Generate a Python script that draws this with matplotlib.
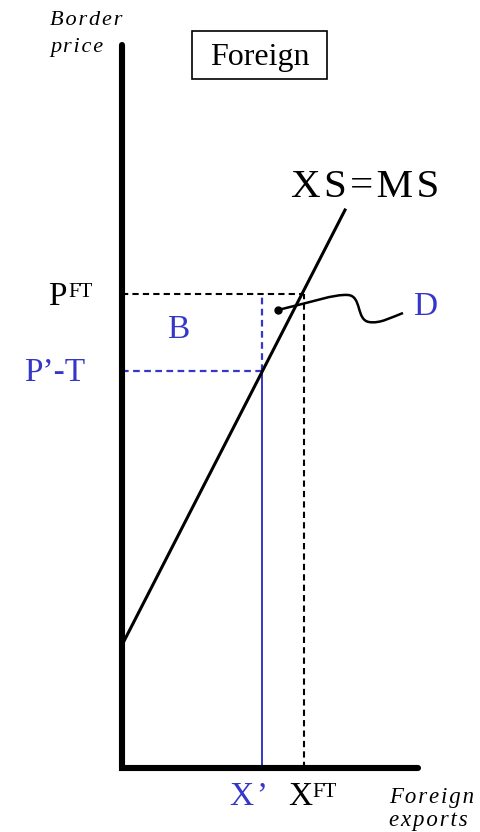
import numpy as np
import matplotlib.pyplot as plt
from matplotlib.path import Path
from matplotlib.patches import PathPatch, Rectangle

plt.rcParams['font.family'] = ['Liberation Serif', 'DejaVu Serif']

# diagram values (quantity, price), origin at the axes corner
y_axis_top = 723
x_axis_end = 296
supply_q = [0, 223]
supply_p = [123, 558]
p_ft = 474
x_ft = 182
p_tariff = 397
x_prime = 140
d_dot = (156, 458)
d_curve = [(156, 458), (190, 466), (212, 474), (226, 473),
           (240, 472), (234, 448), (247, 446),
           (258, 444), (270, 451), (281, 455)]

black = 'black'
blue = '#3636c8'


def spaced(s):
    # wide letter spacing as in the original drawing
    return '\u200a'.join(s)


fig = plt.figure(figsize=(4.81, 8.32), dpi=100)
ax = fig.add_axes([0, 0, 1, 1])
ax.set_xlim(-122, 359)
ax.set_ylim(-64, 768)
ax.axis('off')

# axes of the diagram
ax.plot([0, 0, x_axis_end], [y_axis_top, 0, 0], color=black, lw=4.4,
        solid_joinstyle='miter', solid_capstyle='round', zorder=5)

# supply curve
ax.plot(supply_q, supply_p, color=black, lw=2.2, zorder=4)

# free trade price and quantity
ax.plot([0, x_ft], [p_ft, p_ft], color=black, lw=1.5, ls=(0, (3, 2)))
ax.plot([x_ft, x_ft], [0, p_ft], color=black, lw=1.5, ls=(0, (3, 2)))

# price net of tariff
ax.plot([0, x_prime], [p_tariff, p_tariff], color=blue, lw=1.6, ls=(0, (3, 2)))
ax.plot([x_prime, x_prime], [p_tariff, p_ft], color=blue, lw=1.6, ls=(0, (3, 2)))
ax.plot([x_prime, x_prime], [0, p_tariff], color=blue, lw=1.4)

# pointer to area D
codes = [Path.MOVETO] + [Path.CURVE4] * (len(d_curve) - 1)
ax.add_patch(PathPatch(Path(d_curve, codes), facecolor='none',
                       edgecolor=black, lw=1.8, zorder=6))
ax.plot(*d_dot, 'o', color=black, ms=5, zorder=6)

# title box
ax.add_patch(Rectangle((70, 689), 135, 48, fc='white', ec=black, lw=1.2))
ax.text(137.5, 703, 'Foreign', fontsize=23, ha='center', va='baseline')

# labels
ax.text(-72, 743, spaced('Border'), style='italic', fontsize=16, ha='left', va='baseline')
ax.text(-72, 716, spaced('price'), style='italic', fontsize=16, ha='left', va='baseline')
ax.text(243, 571, spaced('XS=MS'), fontsize=29.5, ha='center', va='baseline')
ax.text(-74, 463, 'P', fontsize=24, ha='left', va='baseline')
ax.text(-54, 471, 'FT', fontsize=15, ha='left', va='baseline')
ax.text(-67, 387, 'P’-T', fontsize=24, color=blue, ha='center', va='baseline')
ax.text(56, 438, 'B', fontsize=24, color=blue, ha='center', va='center')
ax.text(303, 461, 'D', fontsize=24, color=blue, ha='center', va='center')
ax.text(127, -37, spaced('X’'), fontsize=24, color=blue, ha='center', va='baseline')
ax.text(166, -37, 'X', fontsize=24, ha='left', va='baseline')
ax.text(190, -29, 'FT', fontsize=15, ha='left', va='baseline')
ax.text(267, -35, spaced('Foreign'), style='italic', fontsize=16.5, ha='left', va='baseline')
ax.text(267, -58, spaced('exports'), style='italic', fontsize=16.5, ha='left', va='baseline')

fig.savefig('out.png', dpi=100)
